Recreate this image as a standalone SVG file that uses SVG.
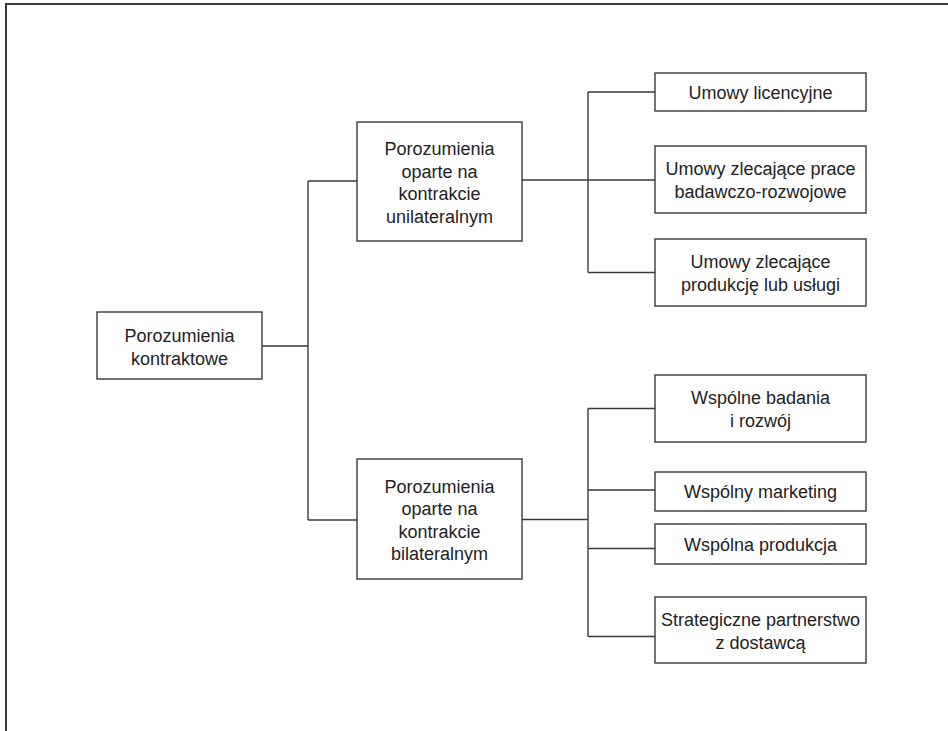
<svg xmlns="http://www.w3.org/2000/svg" width="948" height="731" viewBox="0 0 948 731">
  <style>
    .frame { fill: none; stroke: #3a3a3a; stroke-width: 2; }
    .box { fill: #ffffff; stroke: #3a3a3a; stroke-width: 1.4; }
    .link { fill: none; stroke: #3a3a3a; stroke-width: 1.4; }
    text { font-family: "Liberation Sans", Arial, sans-serif; font-size: 18px; fill: #222222; text-anchor: middle; }
  </style>
  <rect width="948" height="731" fill="#ffffff"/>
  <!-- page frame: top and left edges only -->
  <path class="frame" d="M6,731 V4 H948"/>

  <g id="connectors">
    <path class="link" d="M262,346 H308 M308,181 V520 M308,181 H357 M308,520 H357"/>
    <path class="link" d="M522,180 H588 M588,92 V272.5 M588,92 H655 M588,180 H655 M588,272.5 H655"/>
    <path class="link" d="M522,519.5 H588 M588,408.5 V636.5 M588,408.5 H655 M588,490 H655 M588,548.5 H655 M588,636.5 H655"/>
  </g>

  <g id="root">
    <rect class="box" x="97" y="312" width="165" height="67"/>
    <text x="179.5" y="342">Porozumienia</text>
    <text x="179.5" y="365">kontraktowe</text>
  </g>

  <g id="unilateral">
    <rect class="box" x="357" y="122" width="165" height="119"/>
    <text x="439.5" y="155">Porozumienia</text>
    <text x="439.5" y="177.5">oparte na</text>
    <text x="439.5" y="200">kontrakcie</text>
    <text x="439.5" y="222.5">unilateralnym</text>
  </g>

  <g id="bilateral">
    <rect class="box" x="357" y="459" width="165" height="120"/>
    <text x="439.5" y="492.5">Porozumienia</text>
    <text x="439.5" y="515">oparte na</text>
    <text x="439.5" y="537.5">kontrakcie</text>
    <text x="439.5" y="560">bilateralnym</text>
  </g>

  <g id="licencyjne">
    <rect class="box" x="655" y="73" width="211" height="38"/>
    <text x="760.5" y="99">Umowy licencyjne</text>
  </g>

  <g id="badawczo-rozwojowe">
    <rect class="box" x="655" y="146" width="211" height="67"/>
    <text x="760.5" y="175">Umowy zlecające prace</text>
    <text x="760.5" y="198">badawczo-rozwojowe</text>
  </g>

  <g id="produkcja-uslugi">
    <rect class="box" x="655" y="239" width="211" height="67"/>
    <text x="760.5" y="268">Umowy zlecające</text>
    <text x="760.5" y="291">produkcję lub usługi</text>
  </g>

  <g id="badania-rozwoj">
    <rect class="box" x="655" y="375" width="211" height="67"/>
    <text x="760.5" y="404">Wspólne badania</text>
    <text x="760.5" y="427">i rozwój</text>
  </g>

  <g id="marketing">
    <rect class="box" x="655" y="472" width="211" height="39"/>
    <text x="760.5" y="498">Wspólny marketing</text>
  </g>

  <g id="produkcja">
    <rect class="box" x="655" y="524" width="211" height="40"/>
    <text x="760.5" y="551">Wspólna produkcja</text>
  </g>

  <g id="partnerstwo">
    <rect class="box" x="655" y="597" width="211" height="66"/>
    <text x="760.5" y="626">Strategiczne partnerstwo</text>
    <text x="760.5" y="649">z dostawcą</text>
  </g>
</svg>
